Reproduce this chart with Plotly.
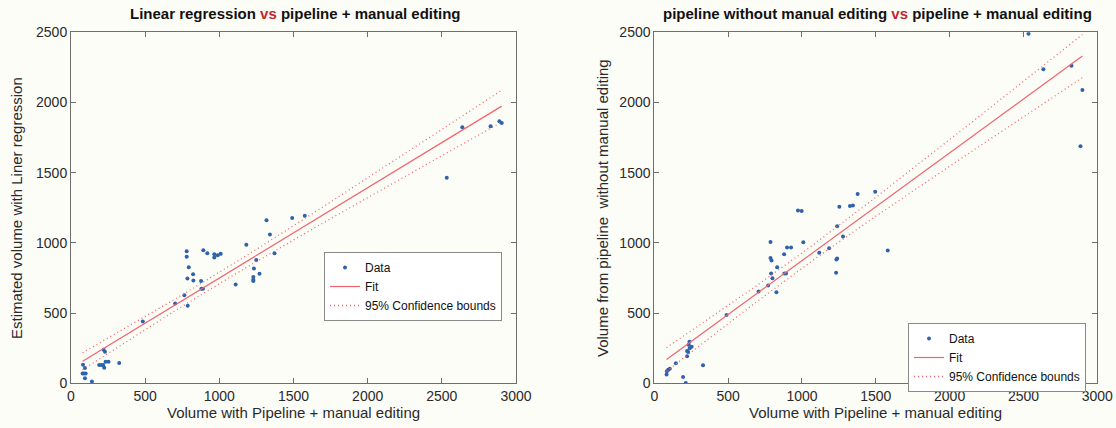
import numpy as np
import plotly.graph_objects as go

# ---------------- data ----------------
left_x = [78, 81, 87, 94, 94, 99, 141, 190, 206, 217, 224, 220, 229, 233, 253, 325,
          484, 702, 764, 787, 780, 780, 794, 785, 823, 825, 877, 879, 890, 892, 919,
          966, 966, 989, 1009, 1110, 1182, 1229, 1229, 1229, 1233, 1249, 1271, 1318,
          1341, 1372, 1491, 1576, 2533, 2638, 2829, 2888, 2904]
left_y = [69, 133, 69, 109, 36, 69, 12, 130, 130, 130, 111, 239, 225, 154, 154, 145,
          441, 569, 628, 552, 941, 901, 827, 747, 777, 732, 728, 673, 673, 948, 927,
          920, 896, 912, 922, 704, 986, 758, 737, 728, 818, 879, 780, 1161,
          1059, 927, 1178, 1194, 1464, 1823, 1830, 1866, 1854]

right_x = [83, 85, 94, 105, 146, 195, 213, 222, 222, 229, 233, 238, 240, 253, 330,
           489, 706, 771, 787, 787, 794, 791, 800, 827, 832, 879, 881, 892, 899, 926,
           973, 998, 1009, 1117, 1184, 1231, 1233, 1238, 1238, 1253, 1278, 1325, 1345,
           1377, 1496, 1581, 2534, 2635, 2825, 2899, 2886]
right_y = [62, 85, 97, 104, 142, 45, 2, 192, 230, 223, 275, 296, 249, 261, 128,
           486, 654, 697, 1007, 893, 875, 782, 749, 649, 827, 920, 782, 782, 967, 967,
           1230, 1228, 1005, 929, 962, 787, 882, 889, 1119, 1258, 1045, 1263, 1266,
           1348, 1365, 946, 2490, 2236, 2262, 2089, 1688]

x_ticks = [0, 500, 1000, 1500, 2000, 2500, 3000]
y_ticks = [0, 500, 1000, 1500, 2000, 2500]

titles = ["Linear regression", "pipeline without manual editing"]
ref_title = "pipeline + manual editing"
x_title = "Volume with Pipeline + manual editing"
y_titles = ["Estimated volume with Liner regression",
            "Volume from pipeline  without manual editing"]

T95 = 2.01  # t quantile (0.975, ~50 dof)


def fit_with_bounds(x, y):
    x = np.asarray(x, float)
    y = np.asarray(y, float)
    n = len(x)
    b, a = np.polyfit(x, y, 1)
    res = y - (a + b * x)
    s = np.sqrt(np.sum(res ** 2) / (n - 2))
    xm = x.mean()
    sxx = np.sum((x - xm) ** 2)
    xs = np.linspace(x.min(), x.max(), 120)
    yf = a + b * xs
    d = T95 * s * np.sqrt(1.0 / n + (xs - xm) ** 2 / sxx)
    return xs, yf, yf - d, yf + d


BLUE = "#2f62ad"
RED = "#f2646c"
BG = "#fdfdf8"
FONT = "Liberation Sans"
DOT = "1px,3px"

fig = go.Figure()

panels = [(left_x, left_y, "x", "y", "legend"), (right_x, right_y, "x2", "y2", "legend2")]
for xd, yd, xa, ya, lg in panels:
    xs, yf, lo, hi = fit_with_bounds(xd, yd)
    fig.add_trace(go.Scatter(x=xd, y=yd, mode="markers", name="Data",
                             marker=dict(color=BLUE, size=4), xaxis=xa, yaxis=ya,
                             legend=lg))
    fig.add_trace(go.Scatter(x=xs, y=yf, mode="lines", name="Fit",
                             line=dict(color=RED, width=1.2), xaxis=xa, yaxis=ya,
                             legend=lg))
    fig.add_trace(go.Scatter(x=xs, y=hi, mode="lines", name="95% Confidence bounds",
                             line=dict(color=RED, width=1.3, dash=DOT), xaxis=xa,
                             yaxis=ya, legend=lg, legendgroup="cb" + lg))
    fig.add_trace(go.Scatter(x=xs, y=lo, mode="lines", name="95% Confidence bounds",
                             line=dict(color=RED, width=1.3, dash=DOT), xaxis=xa,
                             yaxis=ya, legend=lg, legendgroup="cb" + lg,
                             showlegend=False))

# the page body margin is removed by a small post-script, so the figure fills the window
W, H = 1116, 428
def px_x(p):
    return p / W
def px_y(p):
    return 1 - p / H

axis_common = dict(showgrid=False, zeroline=False, showline=True, linecolor="#6e6e6e",
                   linewidth=1, mirror="ticks", ticks="inside", ticklen=5,
                   tickcolor="#6e6e6e", automargin=False,
                   tickfont=dict(family=FONT, size=14, color="#2a2a2a"))

ydom = [px_y(383.3), px_y(32.3)]
leg_common = dict(xanchor="left", yanchor="top", bgcolor="#ffffff",
                  bordercolor="#8a8a8a", borderwidth=1,
                  font=dict(family=FONT, size=12, color="#111"),
                  tracegroupgap=0, itemwidth=30)
fig.update_layout(
    width=W, height=H, paper_bgcolor=BG, plot_bgcolor=BG,
    margin=dict(l=0, r=0, t=0, b=0, autoexpand=False),
    font=dict(family=FONT, size=14, color="#2a2a2a"),
    xaxis=dict(domain=[px_x(71), px_x(516)], range=[0, 3000], tickvals=x_ticks,
               anchor="y", **axis_common),
    yaxis=dict(domain=ydom, range=[0, 2500], tickvals=y_ticks, anchor="x",
               **axis_common),
    xaxis2=dict(domain=[px_x(654.3), px_x(1097.3)], range=[0, 3000], tickvals=x_ticks,
                anchor="y2", **axis_common),
    yaxis2=dict(domain=ydom, range=[0, 2500], tickvals=y_ticks, anchor="x2",
                **axis_common),
    legend=dict(x=px_x(324), y=px_y(252), **leg_common),
    legend2=dict(x=px_x(908), y=px_y(323), **leg_common),
    showlegend=True,
)

ann = []
centers = [(71 + 516) / 2, (654.3 + 1097.3) / 2]
ylab_x = [16, 602]
for i in range(2):
    ann.append(dict(text="<b>" + titles[i] + " <span style='color:#c4262e'>vs</span> "
                    + ref_title + "</b>",
                    x=px_x(centers[i] + 2), y=px_y(14), xref="paper", yref="paper",
                    xanchor="center", yanchor="middle", showarrow=False,
                    font=dict(family=FONT, size=15, color="#111")))
    ann.append(dict(text=x_title, x=px_x(centers[i]), y=px_y(412), xref="paper",
                    yref="paper", xanchor="center", yanchor="middle", showarrow=False,
                    font=dict(family=FONT, size=15, color="#2a2a2a")))
    ann.append(dict(text=y_titles[i], x=px_x(ylab_x[i]), y=px_y(208), xref="paper",
                    yref="paper", xanchor="center", yanchor="middle", showarrow=False,
                    textangle=-90, font=dict(family=FONT, size=15, color="#2a2a2a")))
fig.update_layout(annotations=ann)

fig.write_html("out.html", config={"displayModeBar": False},
               post_script="document.body.style.margin='0';"
                           "document.body.style.overflow='hidden';")
